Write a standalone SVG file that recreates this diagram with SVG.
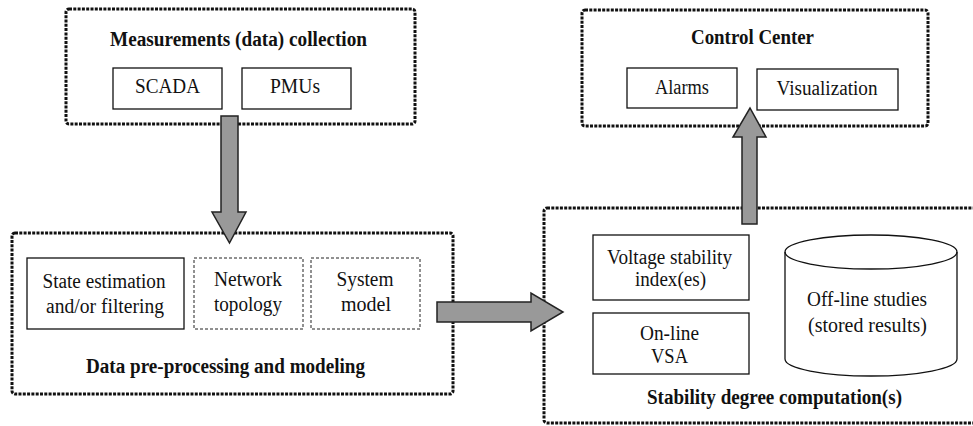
<svg xmlns="http://www.w3.org/2000/svg" width="973" height="426" viewBox="0 0 973 426">
<style>
.outer{fill:none;stroke:#111;stroke-width:3;stroke-dasharray:3 1.3}
.box{fill:#fff;stroke:#111;stroke-width:1.3}
.dbox{fill:#fff;stroke:#222;stroke-width:1;stroke-dasharray:3 2}
.arrow{fill:#999;stroke:#222;stroke-width:1.5;stroke-linejoin:miter}
</style>
<rect width="973" height="426" fill="#fff"/>
<g font-family="Liberation Serif, serif" font-size="20" fill="#111" text-anchor="middle">
<g id="measurements">
<rect class="outer" x="66" y="9" width="349" height="115" rx="3"/>
<text font-weight="bold" x="238.5" y="46" textLength="257" lengthAdjust="spacingAndGlyphs">Measurements (data) collection</text>
<g id="scada"><rect class="box" x="113" y="68" width="109" height="41"/><text x="167.5" y="93" textLength="65" lengthAdjust="spacingAndGlyphs">SCADA</text></g>
<g id="pmus"><rect class="box" x="242" y="68" width="109" height="41"/><text x="295" y="93" textLength="50" lengthAdjust="spacingAndGlyphs">PMUs</text></g>
</g>
<g id="control-center">
<rect class="outer" x="582" y="10" width="346" height="116" rx="3"/>
<text font-weight="bold" x="752.5" y="44" textLength="123" lengthAdjust="spacingAndGlyphs">Control Center</text>
<g id="alarms"><rect class="box" x="627" y="68" width="110" height="40"/><text x="682" y="94" textLength="54" lengthAdjust="spacingAndGlyphs">Alarms</text></g>
<g id="visualization"><rect class="box" x="757" y="69" width="141" height="41"/><text x="827" y="95" textLength="101" lengthAdjust="spacingAndGlyphs">Visualization</text></g>
</g>
<g id="preprocessing">
<rect class="outer" x="12" y="233" width="441" height="161" rx="3"/>
<g id="state-estimation"><rect class="box" x="27" y="258" width="157" height="71"/>
<text x="104" y="288" textLength="123" lengthAdjust="spacingAndGlyphs">State estimation</text>
<text x="105" y="313" textLength="118" lengthAdjust="spacingAndGlyphs">and/or filtering</text></g>
<g id="network-topology"><rect class="dbox" x="194" y="258" width="109" height="71"/>
<text x="248" y="286" textLength="68" lengthAdjust="spacingAndGlyphs">Network</text>
<text x="248" y="311" textLength="68" lengthAdjust="spacingAndGlyphs">topology</text></g>
<g id="system-model"><rect class="dbox" x="311" y="258" width="109" height="71"/>
<text x="365" y="286" textLength="57" lengthAdjust="spacingAndGlyphs">System</text>
<text x="366" y="311" textLength="50" lengthAdjust="spacingAndGlyphs">model</text></g>
<text font-weight="bold" x="225.5" y="373" textLength="279" lengthAdjust="spacingAndGlyphs">Data pre-processing and modeling</text>
</g>
<g id="stability">
<rect class="outer" x="544" y="208" width="440" height="215" rx="3"/>
<g id="vsi"><rect class="box" x="593" y="235" width="156" height="65"/>
<text x="669.5" y="264" textLength="125" lengthAdjust="spacingAndGlyphs">Voltage stability</text>
<text x="670.5" y="286" textLength="71" lengthAdjust="spacingAndGlyphs">index(es)</text></g>
<g id="online-vsa"><rect class="box" x="593" y="313" width="156" height="61"/>
<text x="669.5" y="340" textLength="59" lengthAdjust="spacingAndGlyphs">On-line</text>
<text x="669.5" y="363" textLength="37" lengthAdjust="spacingAndGlyphs">VSA</text></g>
<g id="offline-studies">
<path class="box" d="M785,252 L785,359 A86,17 0 0 0 957,359 L957,252 A86,17 0 0 0 785,252 Z"/>
<path fill="none" stroke="#111" stroke-width="1.3" d="M785,252 A86,17 0 0 0 957,252"/>
<text x="867" y="306" textLength="120" lengthAdjust="spacingAndGlyphs">Off-line studies</text>
<text x="867.5" y="332" textLength="119" lengthAdjust="spacingAndGlyphs">(stored results)</text>
</g>
<text font-weight="bold" x="774.5" y="404" textLength="255" lengthAdjust="spacingAndGlyphs">Stability degree computation(s)</text>
</g>
</g>
<g id="connectors">
<path class="arrow" d="M221,116 L238,116 L238,212 L246,212 L229.5,243 L212,212 L221,212 Z"/>
<path class="arrow" d="M437,302 L531,302 L531,293 L563,312 L531,331 L531,322 L437,322 Z"/>
<path class="arrow" d="M742,224 L742,137 L733,137 L750,108 L766,137 L757,137 L757,224 Z"/>
</g>
</svg>
